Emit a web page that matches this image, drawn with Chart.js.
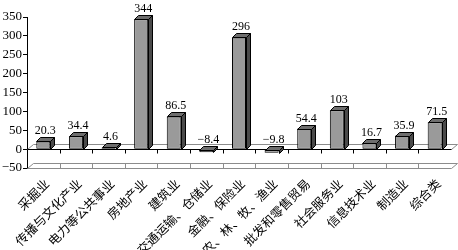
<!DOCTYPE html>
<html><head><meta charset="utf-8">
<script src="https://cdn.jsdelivr.net/npm/chart.js@4"></script>
<style>html,body{margin:0;padding:0;background:#fff}</style>
</head><body>
<canvas id="c" width="458" height="250"></canvas>
<script>
const categories = ['采掘业','传播与文化产业','电力等公共事业','房地产业','建筑业','交通运输、仓储业','金融、保险业','农、林、牧、渔业','批发和零售贸易','社会服务业','信息技术业','制造业','综合类'];
const values = [20.3, 34.4, 4.6, 344, 86.5, -8.4, 296, -9.8, 54.4, 103, 16.7, 35.9, 71.5];
const yTickValues = [-50, 0, 50, 100, 150, 200, 250, 300, 350];

const DX = 4, DY = 4, FDX = 6, FDY = 5;
const fmt = v => (v < 0 ? '\u2212' + Math.abs(v) : String(v));

function seg(ctx, x1, y1, x2, y2) {
  ctx.beginPath(); ctx.moveTo(x1, y1); ctx.lineTo(x2, y2); ctx.stroke();
}

const bar3d = {
  id: 'bar3d',
  beforeDatasetsDraw(chart) {
    const { ctx, chartArea: a, scales: { x, y } } = chart;
    const y0 = Math.round(y.getPixelForValue(0)) + 0.5;
    const yb = Math.round(y.getPixelForValue(yTickValues[0])) + 0.5;
    const L = a.left + 0.5, R = Math.round(a.right) + 0.5;
    const half = (x.getPixelForValue(1) - x.getPixelForValue(0)) / 2;
    ctx.save();
    ctx.lineWidth = 1;
    ctx.strokeStyle = '#8c8c8c';
    seg(ctx, L, yb, R, yb);
    seg(ctx, L + FDX, yb - FDY, R + FDX, yb - FDY);
    seg(ctx, L, yb, L + FDX, yb - FDY);
    seg(ctx, R, yb, R + FDX, yb - FDY);
    for (let i = 1; i < categories.length; i++) {
      const bx = Math.round(x.getPixelForValue(i) - half) + 0.5;
      seg(ctx, bx, yb, bx, yb - FDY);
    }
    seg(ctx, L + FDX, y0 - FDY, R + FDX, y0 - FDY);
    seg(ctx, L, y0, L + FDX, y0 - FDY);
    seg(ctx, R, y0, R + FDX, y0 - FDY);
    ctx.strokeStyle = '#000';
    seg(ctx, L, y0, R, y0);
    for (let i = 1; i < categories.length; i++) {
      const bx = Math.round(x.getPixelForValue(i) - half) + 0.5;
      seg(ctx, bx, y0, bx, y0 + 4);
    }
    ctx.restore();
  },
  afterDatasetsDraw(chart) {
    const { ctx, scales: { x, y } } = chart;
    const meta = chart.getDatasetMeta(0);
    ctx.save();
    ctx.lineWidth = 1;
    ctx.strokeStyle = '#000';
    meta.data.forEach((el, i) => {
      const p = el.getProps(['x', 'y', 'base', 'width'], true);
      const l = Math.round(p.x - p.width / 2) + 0.5, r = Math.round(p.x + p.width / 2) + 0.5;
      const t = Math.round(Math.min(p.y, p.base)) + 0.5, b = Math.round(Math.max(p.y, p.base)) + 0.5;
      ctx.fillStyle = '#6e6e6e';
      ctx.beginPath();
      ctx.moveTo(l, t); ctx.lineTo(l + DX, t - DY); ctx.lineTo(r + DX, t - DY); ctx.lineTo(r, t); ctx.closePath();
      ctx.fill(); ctx.stroke();
      ctx.fillStyle = '#4a4a4a';
      ctx.beginPath();
      ctx.moveTo(r, t); ctx.lineTo(r + DX, t - DY); ctx.lineTo(r + DX, b - DY); ctx.lineTo(r, b); ctx.closePath();
      ctx.fill(); ctx.stroke();
      ctx.fillStyle = '#000';
      ctx.font = '12px "Liberation Serif"';
      ctx.textAlign = 'center';
      ctx.textBaseline = 'bottom';
      ctx.fillText(fmt(values[i]), p.x + DX / 2, t - DY - 1);
    });
    const yb = y.getPixelForValue(yTickValues[0]);
    ctx.fillStyle = '#000';
    ctx.font = '12.5px "Noto Sans CJK SC"';
    ctx.textAlign = 'right';
    ctx.textBaseline = 'top';
    categories.forEach((c, i) => {
      ctx.save();
      ctx.translate(x.getPixelForValue(i) - 1, yb + 9);
      ctx.rotate(-Math.PI / 4);
      ctx.fillText(c, 0, 0);
      ctx.restore();
    });
    ctx.restore();
  }
};

new Chart(document.getElementById('c'), {
  type: 'bar',
  data: {
    labels: categories,
    datasets: [{
      data: values,
      backgroundColor: '#9a9a9a',
      borderColor: '#000',
      borderWidth: 1,
      borderSkipped: false,
      categoryPercentage: 1,
      barPercentage: 0.43
    }]
  },
  options: {
    responsive: false,
    animation: false,
    layout: { padding: { top: 17, right: 7, left: 0, bottom: 0 } },
    plugins: { legend: { display: false }, tooltip: { enabled: false } },
    scales: {
      x: {
        grid: { display: false, drawTicks: false },
        border: { display: false },
        ticks: { display: false },
        afterFit(s) { s.height = 82; s.paddingLeft = 0; s.paddingRight = 0; }
      },
      y: {
        min: yTickValues[0],
        max: yTickValues[yTickValues.length - 1],
        afterBuildTicks(s) { s.ticks = yTickValues.map(v => ({ value: v })); },
        grid: { display: true, drawOnChartArea: false, drawTicks: true, tickLength: 4, color: '#000' },
        border: { display: true, color: '#000' },
        ticks: {
          color: '#000',
          font: { family: '"Liberation Serif"', size: 13 },
          padding: 1,
          callback: v => fmt(v)
        },
        afterFit(s) { s.width = 27; }
      }
    }
  },
  plugins: [bar3d]
});
</script>
</body></html>
